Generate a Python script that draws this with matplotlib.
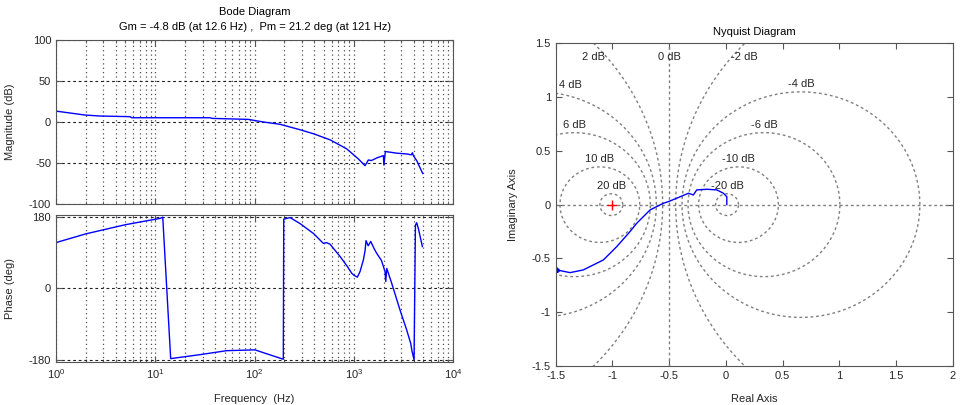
import numpy as np
import matplotlib.pyplot as plt
from matplotlib.ticker import LogLocator, NullFormatter

# Bode magnitude
mag_freq = [1.0, 1.96, 2.77, 5.57, 5.8, 13, 35.6, 37.5, 86.6, 123, 181, 287, 392, 576,
            850, 1112, 1298, 1403, 1500, 1600, 1703, 1987, 2010, 2080, 2710, 3414,
            3800, 3900, 3985, 4300, 4950]
mag_db = [13.3, 8.5, 7.3, 6.5, 5.2, 5.2, 5.2, 4.4, 3.2, 0.0, -2.8, -9.4, -14.3, -21.7,
          -32.8, -45.0, -53.3, -46.3, -47.0, -45.5, -43.8, -41.0, -52.5, -36.0, -38.0,
          -39.0, -40.0, -37.5, -41.0, -47.0, -62.8]

# Bode phase, wrapped to [-180, 180]
phase_freq = [1.0, 2.0, 5.0, 11.2, 11.9, 14.3, 28.3, 52.5, 101, 195, 197, 228, 287, 392,
              494, 530, 576, 728, 860, 953, 1000, 1087, 1156, 1250, 1300, 1328, 1397,
              1483, 1600, 1703, 1900, 2065, 2100, 2150, 2250, 2410, 2925, 3414, 3748,
              3850, 4048, 4180, 4300, 4480, 4910]
phase_deg = [115, 137, 160, 176, 179, -177, -167, -157, -155, -178.6, 174, 178, 163, 138,
             113, 115, 111, 80, 55, 38, 33, 28, 42, 71.5, 95, 120, 107, 118, 100, 88, 70,
             42, 17, 50, 35, 12.6, -55, -105, -139, -157, -180, 159, 165, 150, 105]

# Nyquist curve (high frequency end first)
nyq_re = [0.008, 0.008, -0.022, -0.08, -0.168, -0.257, -0.287, -0.33, -0.433, -0.507,
          -0.551, -0.668, -0.786, -0.845, -0.962, -1.08, -1.257, -1.374, -1.462,
          -1.50, -1.47, -1.51, -1.48, -1.53]
nyq_im = [0.0, 0.074, 0.106, 0.137, 0.143, 0.137, 0.09, 0.106, 0.06, 0.028,
          0.013, -0.049, -0.173, -0.25, -0.39, -0.514, -0.607, -0.632, -0.613,
          -0.58, -0.62, -0.60, -0.63, -0.60]

mcircle_db = [20, 10, 6, 4, 2, -2, -4, -6, -10, -20]
mag_yticks = [-100, -50, 0, 50, 100]
phase_yticks = [-180, 0, 180]

plt.rcParams['font.family'] = ['Liberation Sans', 'DejaVu Sans']
plt.rcParams['font.size'] = 8
plt.rcParams['axes.unicode_minus'] = False

txt = '#262626'
frame = '#555555'


def style(ax):
    for s in ax.spines.values():
        s.set_color(frame)
        s.set_linewidth(0.8)
    ax.tick_params(which='both', direction='in', top=True, right=True,
                   colors=frame, labelcolor=txt, labelsize=8)
    ax.tick_params(which='major', length=4)
    ax.tick_params(which='minor', length=2)


fig = plt.figure(figsize=(9.67, 4.05), dpi=100)
ax_mag = fig.add_axes([0.0579, 0.4963, 0.4106, 0.4049])
ax_ph = fig.add_axes([0.0579, 0.1062, 0.4106, 0.363])
ax_ny = fig.add_axes([0.5747, 0.0963, 0.4106, 0.7968])

# --- Bode diagram
for ax in (ax_mag, ax_ph):
    ax.set_xscale('log')
    ax.set_xlim(1, 1e4)
    ax.xaxis.set_major_locator(LogLocator(base=10))
    ax.xaxis.set_minor_locator(LogLocator(base=10, subs=range(2, 10)))
    ax.xaxis.set_minor_formatter(NullFormatter())
    ax.grid(True, which='both', axis='x', linestyle=(0, (1, 2.5)), color='#505050', lw=0.9)
    ax.grid(True, which='major', axis='y', linestyle=(0, (2.5, 2.5)), color='#202020', lw=0.8)
    style(ax)

ax_mag.plot(mag_freq, mag_db, color='#0000ff', lw=1)
ax_mag.set_ylim(-100, 100)
ax_mag.set_yticks(mag_yticks)
ax_mag.xaxis.set_major_formatter(NullFormatter())
ax_mag.set_ylabel('Magnitude (dB)', color=txt)
ax_mag.yaxis.set_label_coords(-0.103, 0.5)

ax_ph.plot(phase_freq, phase_deg, color='#0000ff', lw=1)
ax_ph.set_ylim(-185.5, 184.5)
ax_ph.set_yticks(phase_yticks)
ax_ph.set_ylabel('Phase (deg)', color=txt)
ax_ph.yaxis.set_label_coords(-0.103, 0.5)
ax_ph.set_xlabel('Frequency  (Hz)', color=txt)
ax_ph.xaxis.set_label_coords(0.5, -0.22)

fig.text(255 / 967, 1 - 12 / 405, 'Bode Diagram', ha='center', va='center', fontsize=8)
fig.text(255 / 967, 1 - 27 / 405,
         'Gm = -4.8 dB (at 12.6 Hz) ,  Pm = 21.2 deg (at 121 Hz)',
         ha='center', va='center', fontsize=8)

# --- Nyquist diagram with M-circles
grey = '#808080'
dash = (0, (2, 2))
theta = np.linspace(0, 2 * np.pi, 600)
label_pos = {4: (-1.37, 1.11), 2: (-1.17, 1.37), -2: (0.16, 1.37)}
for db in mcircle_db:
    m = 10 ** (db / 20)
    c = -m ** 2 / (m ** 2 - 1)
    r = abs(m / (m ** 2 - 1))
    ax_ny.plot(c + r * np.cos(theta), r * np.sin(theta), color=grey, lw=1, linestyle=dash)
    lx, ly = label_pos.get(db, (c, r + 0.07))
    ax_ny.text(lx, ly, f'{db} dB', ha='center', va='center', fontsize=8, color=txt)
ax_ny.axvline(-0.5, color=grey, lw=1, linestyle=dash)
ax_ny.axhline(0, color=grey, lw=1, linestyle=dash)
ax_ny.text(-0.5, 1.37, '0 dB', ha='center', va='center', fontsize=8, color=txt)

ax_ny.plot(nyq_re, nyq_im, color='#0000ff', lw=1)
ax_ny.plot([-1], [0], marker='+', color='red', markersize=7, mew=1)
ax_ny.set_xlim(-1.5, 2)
ax_ny.set_ylim(-1.5, 1.5)
ax_ny.set_xticks(np.arange(-1.5, 2.01, 0.5))
ax_ny.set_yticks(np.arange(-1.5, 1.51, 0.5))
ax_ny.set_xticklabels(['-1.5', '-1', '-0.5', '0', '0.5', '1', '1.5', '2'])
ax_ny.set_yticklabels(['-1.5', '-1', '-0.5', '0', '0.5', '1', '1.5'])
style(ax_ny)
ax_ny.set_title('Nyquist Diagram', fontsize=8, pad=6)
ax_ny.set_xlabel('Real Axis', color=txt)
ax_ny.xaxis.set_label_coords(0.5, -0.087)
ax_ny.set_ylabel('Imaginary Axis', color=txt)
ax_ny.yaxis.set_label_coords(-0.095, 0.5)

fig.savefig('out.png', dpi=100)
